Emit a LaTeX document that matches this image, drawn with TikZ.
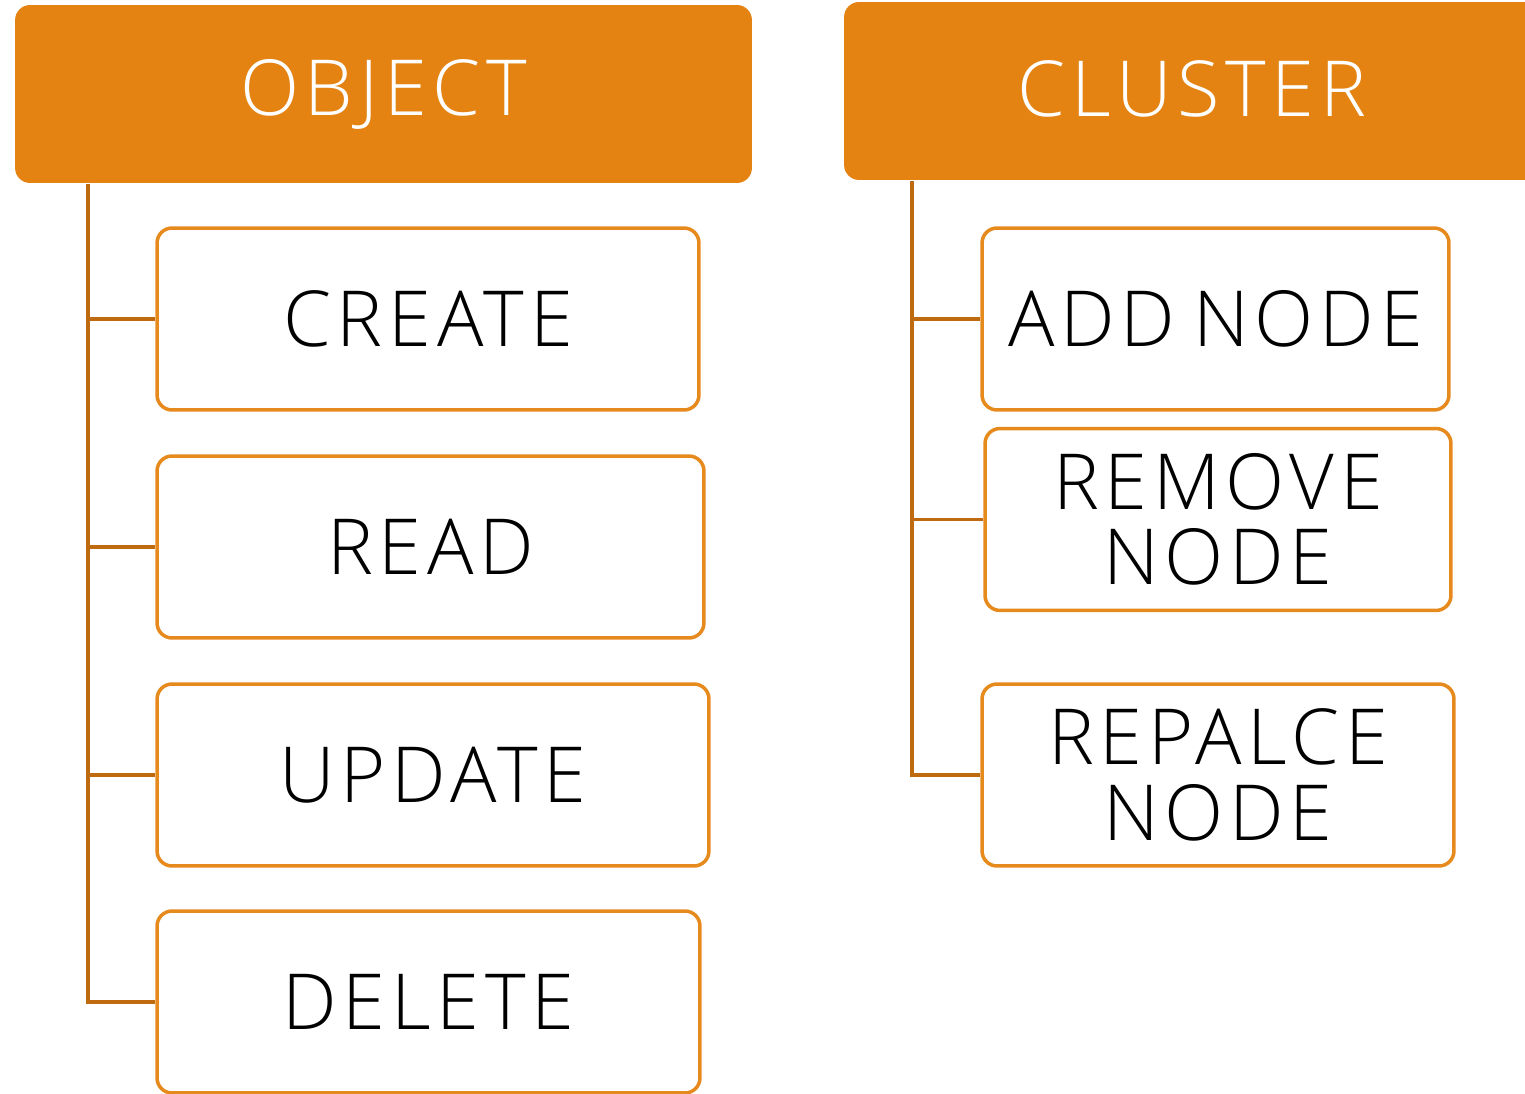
\documentclass[tikz,border=0pt]{standalone}
\usepackage{fontspec}
\setmainfont{Open Sans}[UprightFont=* Light, LetterSpace=7.5, WordSpace=0.7]
\usetikzlibrary{positioning}

\definecolor{headorange}{RGB}{228,131,18}
\definecolor{boxorange}{RGB}{230,138,30}
\definecolor{linkorange}{RGB}{192,106,16}

\begin{document}
\begin{tikzpicture}[
  x=0.02cm,
  y=-0.02cm,
  font=\fontsize{44}{43}\selectfont,
  head/.style={fill=headorange, rounded corners=0.3cm, text=white, minimum height=3.56cm, align=center},
  item/.style={draw=boxorange, line width=2pt, rounded corners=0.3cm, fill=white, minimum height=3.64cm, align=center},
  link/.style={draw=linkorange, line width=2.2pt}
]
\useasboundingbox (0,0) rectangle (1525,1094);
\clip (0,0) rectangle (1525,1094);

% Kopfzeilen
\node[head, minimum width=14.74cm] (object)  at (383.5,94) {\raisebox{3pt}{OBJECT}};
\node[head, minimum width=13.92cm] (cluster) at (1192,91)  {\raisebox{3pt}{CLUSTER}};

% Operationen auf Objekten
\node[item, minimum width=10.84cm] (create) at (428,319)   {CREATE};
\node[item, minimum width=10.94cm] (read)   at (430.5,547) {READ};
\node[item, minimum width=11.04cm] (update) at (433,775)   {UPDATE};
\node[item, minimum width=10.86cm] (delete) at (428.5,1002){DELETE};

% Operationen auf dem Cluster
\node[item, minimum width=9.34cm] (addnode)     at (1215.5,319) {ADD NODE};
\node[item, minimum width=9.32cm] (removenode)  at (1218,519.5) {REMOVE\\NODE};
\node[item, minimum width=9.44cm] (replacenode) at (1218,775)   {REPALCE\\NODE};

% Stammlinien
\coordinate (objroot) at (88,184);
\coordinate (cluroot) at (912,181);

\draw[link] (objroot) |- (create.west);
\draw[link] (objroot) |- (read.west);
\draw[link] (objroot) |- (update.west);
\draw[link] (objroot) |- (delete.west);

\draw[link] (cluroot) |- (addnode.west);
\draw[link] (cluroot) |- (removenode.west);
\draw[link] (cluroot) |- (replacenode.west);

\end{tikzpicture}
\end{document}
